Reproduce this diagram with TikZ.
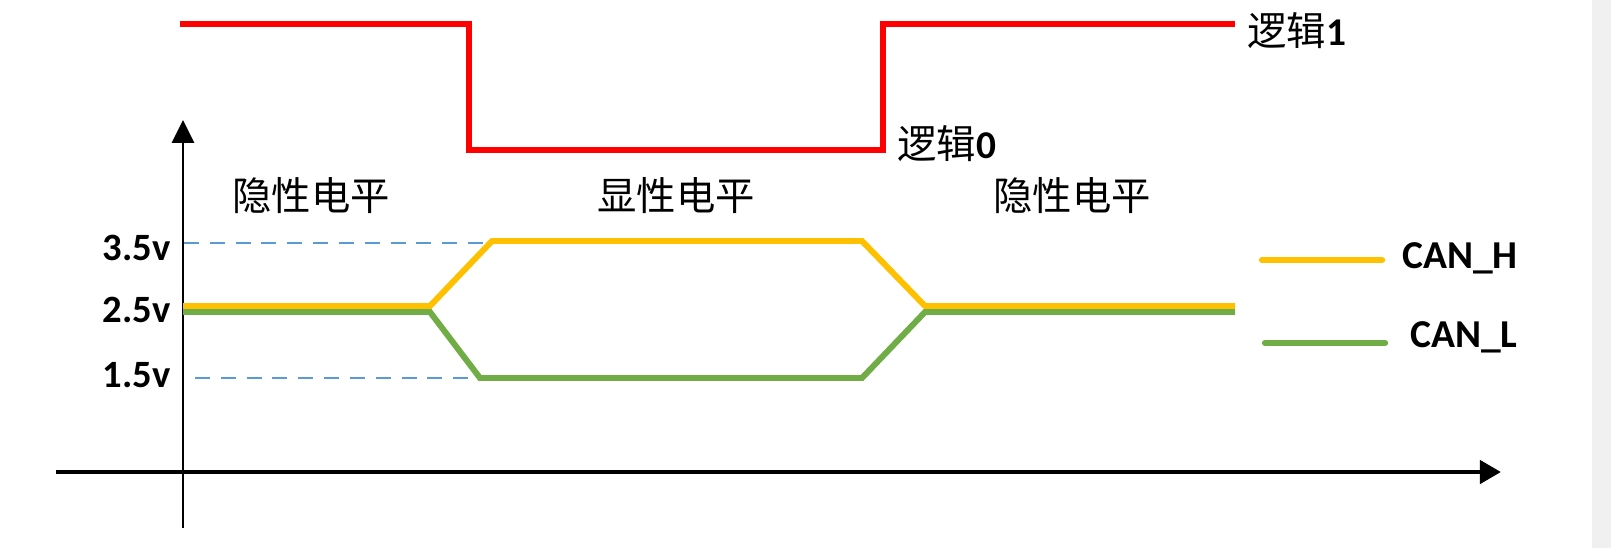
\documentclass[tikz,border=0pt]{standalone}
\usepackage{fontspec}
\newfontfamily\cjk{Noto Sans CJK SC}
\newfontfamily\lat{Carlito}
\usetikzlibrary{arrows.meta}
\definecolor{logicred}{RGB}{255,0,0}
\definecolor{canhcolor}{RGB}{255,192,0}
\definecolor{canlcolor}{RGB}{112,173,71}
\definecolor{guidecolor}{RGB}{91,155,213}
\definecolor{edgegray}{RGB}{240,240,240}

\begin{document}
\begin{tikzpicture}[x=0.02cm,y=-0.02cm,
  logic/.style={logicred,line width=3.4pt},
  canh/.style={canhcolor,line width=3.4pt},
  canl/.style={canlcolor,line width=3.4pt},
  guide/.style={guidecolor,line width=0.9pt,dash pattern=on 8.5pt off 6.2pt},
  level/.style={font=\cjk\fontsize{22.4}{26}\selectfont,inner sep=0pt},
  volt/.style={font=\lat\bfseries\fontsize{22}{26}\selectfont,inner sep=0pt,anchor=base east},
  leg/.style={font=\lat\bfseries\fontsize{22.5}{26}\selectfont,inner sep=0pt,anchor=base west}]
\useasboundingbox (0,0) rectangle (1611,548);
\fill[edgegray] (1592,0) rectangle (1611,548);
% logic level
\draw[logic] (180,24) -- (469,24) -- (469,150) -- (883,150) -- (883,24) -- (1235,24);
\node[level,anchor=west] (logic1) at (1247,31) {逻辑{\lat\bfseries 1}};
\node[level,anchor=west] (logic0) at (897,144) {逻辑{\lat\bfseries 0}};
% axes
\draw[line width=1.7pt,-{Triangle[length=13pt,width=12.5pt]}] (183,528) -- (183,120);
\draw[line width=2.8pt,-{Triangle[length=12pt,width=13pt]}] (56,472) -- (1501,472);
% levels
\node[level] (recL) at (311,196) {隐性电平};
\node[level] (dom) at (676,196) {显性电平};
\node[level] (recR) at (1072,196) {隐性电平};
\foreach \n/\t/\y in {a/3.5/260,b/2.5/322,c/1.5/387}{
  \node[volt] (v\n) at (171,\y) {\t v};}
\draw[guide] (184,243) -- (490,243);
\draw[guide] (195,378) -- (480,378);
% bus lines
\draw[canh] (183,306) -- (430,306) -- (492,241) -- (862,241) -- (925,306) -- (1235,306);
\draw[canl] (183,312) -- (430,312) -- (480,378) -- (862,378) -- (925,312) -- (1235,312);
% legend
\draw[canh,line width=3.6pt,line cap=round] (1262,260) -- (1382,260);
\node[leg] (legH) at (1402,268) {CAN\_H};
\draw[canl,line width=3.6pt,line cap=round] (1265,343) -- (1385,343);
\node[leg] (legL) at (1410,347) {CAN\_L};
\end{tikzpicture}
\end{document}
